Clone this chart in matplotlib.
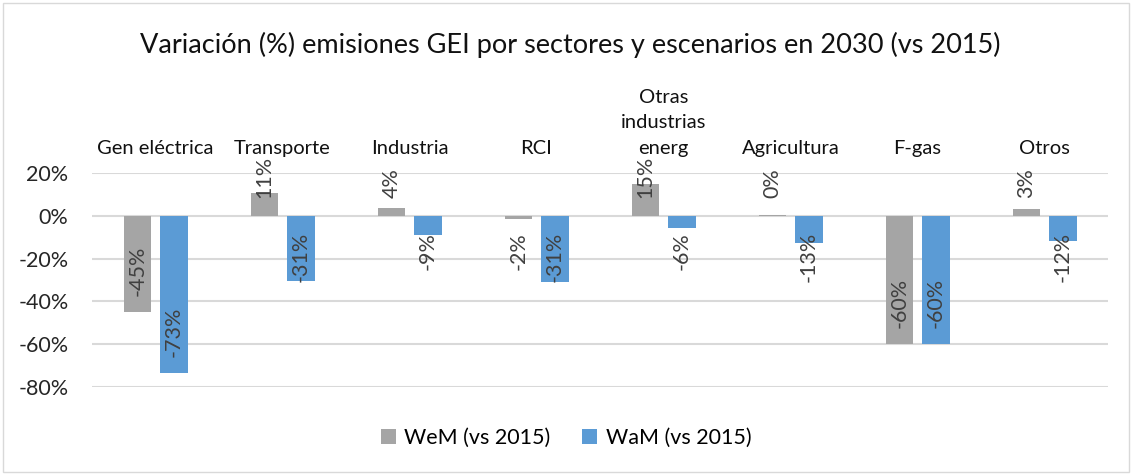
import numpy as np
import matplotlib.pyplot as plt
from matplotlib.patches import Rectangle

sectors = ["Gen eléctrica", "Transporte", "Industria", "RCI",
           "Otras\nindustrias\nenerg", "Agricultura", "F-gas", "Otros"]
series = ["WeM (vs 2015)", "WaM (vs 2015)"]
wem = [-44.8, 10.7, 3.6, -1.6, 14.8, 0.2, -59.8, 3.2]
wam = [-73.4, -30.6, -8.8, -30.9, -5.9, -12.7, -59.8, -11.6]
colors = ["#A5A5A5", "#5B9BD5"]

plt.rcParams['font.family'] = ['Lato', 'DejaVu Sans']

fig = plt.figure(figsize=(11.32, 4.75), dpi=100)
ax = fig.add_axes([0.0813, 0.1853, 0.8975, 0.4505])

x = np.arange(len(sectors))
w = 0.22
off = 0.142
bars1 = ax.bar(x - off, wem, w, color=colors[0], label=series[0], zorder=2)
bars2 = ax.bar(x + off, wam, w, color=colors[1], label=series[1], zorder=2)

ax.set_xlim(-0.5, len(sectors) - 0.5)
ax.set_ylim(-80, 20)
ax.set_yticks(np.arange(-80, 21, 20))
ax.yaxis.set_major_formatter(lambda v, p: f"{v:.0f}%")
ax.grid(axis='y', color='#D9D9D9', lw=1.5, zorder=0)
ax.set_axisbelow(True)
for s in ax.spines.values():
    s.set_visible(False)
ax.tick_params(axis='y', length=0, pad=17, labelsize=15.5, labelcolor='#262626')
ax.set_xticks([])

# category names sit above the plot area
for xi, name in zip(x, sectors):
    ax.annotate(name, (xi, 1.0), xycoords=ax.get_xaxis_transform(),
                xytext=(0, 16), textcoords='offset pixels',
                ha='center', va='bottom', fontsize=14.5, color='#111111',
                linespacing=1.62)

# data labels, rotated, "inside end" style
fig.canvas.draw()
rend = fig.canvas.get_renderer()
zero_y = ax.transData.transform((0, 0))[1]
gap = 16
for bars, vals in [(bars1, wem), (bars2, wam)]:
    for b, v in zip(bars, vals):
        xc = b.get_x() + b.get_width() / 2
        lab = f"{round(v):.0f}%"
        if v >= 0:
            ax.annotate(lab, (xc, 0), xytext=(0, gap + 2), textcoords='offset pixels',
                        rotation=90, ha='center', va='bottom', fontsize=15.5,
                        color='#404040', zorder=3)
        else:
            t = ax.annotate(lab, (xc, 0), xytext=(0, -gap), textcoords='offset pixels',
                            rotation=90, ha='center', va='top', fontsize=15.5,
                            color='#404040', zorder=3)
            ln = t.get_window_extent(rend).height
            end_y = ax.transData.transform((0, v))[1]
            top = min(zero_y - gap, end_y + gap + ln)
            t.xyann = (0, top - zero_y)

fig.text(0.504, 0.905, "Variación (%) emisiones GEI por sectores y escenarios en 2030 (vs 2015)",
         ha='center', va='center', fontsize=19.5, color='#111111')

fig.legend(loc='center', bbox_to_anchor=(0.5, 0.078), ncol=2, frameon=False,
           fontsize=15.5, handlelength=0.7, handleheight=0.7, handletextpad=0.4,
           columnspacing=1.45)

fig.patches.append(Rectangle((0.003, 0.006), 0.994, 0.988, transform=fig.transFigure,
                             fill=False, ec='#D9D9D9', lw=1))

fig.savefig("out.png", dpi=100)
